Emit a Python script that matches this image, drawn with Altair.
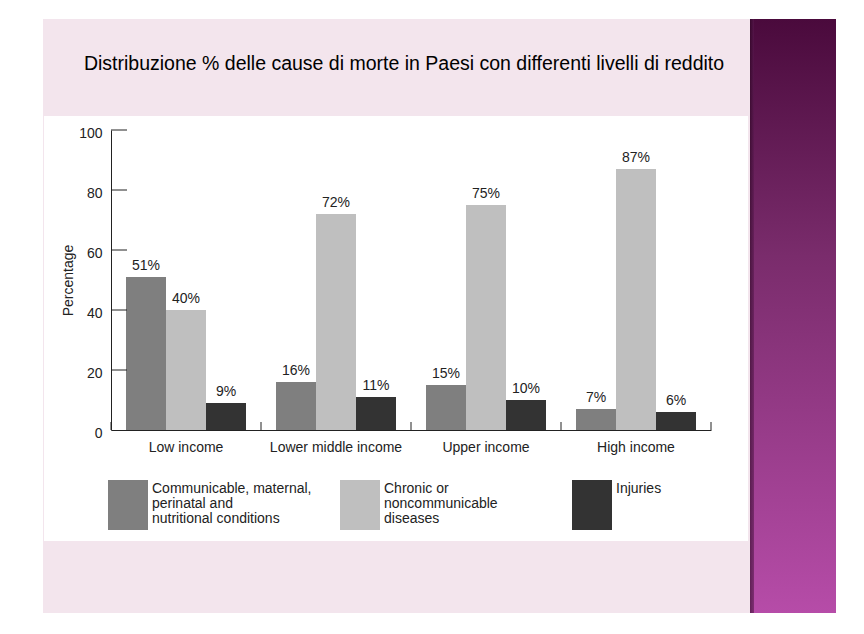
import altair as alt
import pandas as pd

# ---- data ----
categories = ["Low income", "Lower middle income", "Upper income", "High income"]
series = [
    "Communicable, maternal, perinatal and nutritional conditions",
    "Chronic or noncommunicable diseases",
    "Injuries",
]
legend_labels = [
    "Communicable, maternal,\nperinatal and\nnutritional conditions",
    "Chronic or\nnoncommunicable\ndiseases",
    "Injuries",
]
communicable = [51, 16, 15, 7]
chronic = [40, 72, 75, 87]
injuries = [9, 11, 10, 6]
y_tick_values = [0, 20, 40, 60, 80, 100]
bar_colors = ["#7f7f7f", "#bfbfbf", "#333333"]
title_text = "Distribuzione % delle cause di morte in Paesi con differenti livelli di reddito"

FONT = "Liberation Sans"
TXT = "#222222"
FS = 14

rows = []
for s, vals in zip(series, [communicable, chronic, injuries]):
    for c, v in zip(categories, vals):
        rows.append({"category": c, "series": s, "value": v})
df = pd.DataFrame(rows)
leg_df = pd.DataFrame({"series": series, "label": legend_labels})
yt_df = pd.DataFrame({"value": y_tick_values[1:]})
cat_df = pd.DataFrame({"category": categories})
last_df = pd.DataFrame({"category": categories[-1:]})
one = pd.DataFrame({"a": [0]})

W, H = 600, 300

# ---- slide decorations ----
slide = alt.Chart(one).mark_rect(color="#f3e5ed").encode(
    x=alt.value(-68), x2=alt.value(639), y=alt.value(-111), y2=alt.value(483))
white = alt.Chart(one).mark_rect(color="#ffffff").encode(
    x=alt.value(-67), x2=alt.value(637), y=alt.value(-14), y2=alt.value(411))
purple = alt.Chart(one).mark_rect(
    color=alt.Gradient(
        gradient="linear", x1=0, x2=0, y1=0, y2=1,
        stops=[alt.GradientStop(color="#4a0a3c", offset=0),
               alt.GradientStop(color="#7a2c6c", offset=0.4),
               alt.GradientStop(color="#b64ca8", offset=1)])
).encode(x=alt.value(639), x2=alt.value(725), y=alt.value(-111), y2=alt.value(483))
edge = alt.Chart(one).mark_rect(
    color=alt.Gradient(
        gradient="linear", x1=0, x2=1, y1=0, y2=0,
        stops=[alt.GradientStop(color="#2a0622", offset=0),
               alt.GradientStop(color="#5a1a50", offset=1)]),
    opacity=0.6,
).encode(x=alt.value(639), x2=alt.value(643), y=alt.value(-111), y2=alt.value(483))

title = alt.Chart(one).mark_text(
    text=title_text, font=FONT, fontSize=19.5, color="#000000", baseline="middle", align="center"
).encode(x=alt.value(293), y=alt.value(-66))

# ---- main chart ----
x_scale = alt.Scale(domain=categories, paddingInner=0.2, paddingOuter=0.1)
y_scale = alt.Scale(domain=[0, 100], nice=False)
color_scale = alt.Scale(domain=series, range=bar_colors)
off_scale = alt.Scale(domain=series, paddingInner=0, paddingOuter=0)

x_axis = alt.Axis(
    title=None, labelAngle=0, ticks=False, labelPadding=10, domainColor="#222222",
    labelFont=FONT, labelFontSize=FS, labelColor=TXT, zindex=2)
y_axis = alt.Axis(
    title="Percentage", values=y_tick_values, ticks=False, grid=False,
    domainColor="#222222", labelPadding=9, labelOffset=3,
    labelFont=FONT, labelFontSize=FS, labelColor=TXT,
    titleFont=FONT, titleFontSize=FS, titleFontWeight="normal", titleColor=TXT,
    titlePadding=3, zindex=2)

bars = alt.Chart(df).mark_bar().encode(
    x=alt.X("category:N", scale=x_scale, axis=x_axis),
    xOffset=alt.XOffset("series:N", scale=off_scale),
    y=alt.Y("value:Q", scale=y_scale, axis=y_axis),
    color=alt.Color("series:N", scale=color_scale, legend=None),
)

labels = alt.Chart(df).transform_calculate(
    lbl="datum.value + '%'"
).mark_text(baseline="bottom", dy=-4, font=FONT, fontSize=FS, color=TXT).encode(
    x=alt.X("category:N", scale=x_scale, axis=x_axis),
    xOffset=alt.XOffset("series:N", scale=off_scale),
    y=alt.Y("value:Q", scale=y_scale, axis=y_axis),
    text="lbl:N",
)

xticks = alt.Chart(cat_df).mark_rule(color="#222222", xOffset=-15).encode(
    x=alt.X("category:N", scale=x_scale, bandPosition=0, axis=x_axis),
    y=alt.value(H), y2=alt.value(H - 8))
xtick_end = alt.Chart(last_df).mark_rule(color="#222222", xOffset=15).encode(
    x=alt.X("category:N", scale=x_scale, bandPosition=1, axis=x_axis),
    y=alt.value(H), y2=alt.value(H - 8))
yticks = alt.Chart(yt_df).mark_rule(color="#222222").encode(
    y=alt.Y("value:Q", scale=y_scale, axis=y_axis), x=alt.value(0), x2=alt.value(16))

main = alt.layer(bars, labels, xticks, xtick_end, yticks)

# ---- legend ----
leg_scale = alt.Scale(type="point", domain=series, range=[17, 481], padding=0)
leg_rect = alt.Chart(leg_df).mark_rect(width=40).encode(
    x=alt.X("series:N", scale=leg_scale, axis=None),
    y=alt.value(350), y2=alt.value(400),
    color=alt.Color("series:N", scale=color_scale, legend=None),
)
leg_text = alt.Chart(leg_df).mark_text(
    align="left", baseline="top", lineBreak="\n", dx=24, lineHeight=15,
    font=FONT, fontSize=FS, color=TXT,
).encode(
    x=alt.X("series:N", scale=leg_scale, axis=None),
    y=alt.value(352),
    text="label:N",
)
legend = alt.layer(leg_rect, leg_text)

chart = alt.layer(slide, white, purple, edge, title, main, legend).resolve_scale(
    x="independent"
).properties(
    width=W, height=H,
    autosize=alt.AutoSizeParams(type="none"),
    padding={"left": 103, "top": 122, "right": 125, "bottom": 183},
).configure_view(stroke=None).configure(background="#ffffff")

chart.save("out.html", embed_options={"renderer": "svg", "actions": False})
